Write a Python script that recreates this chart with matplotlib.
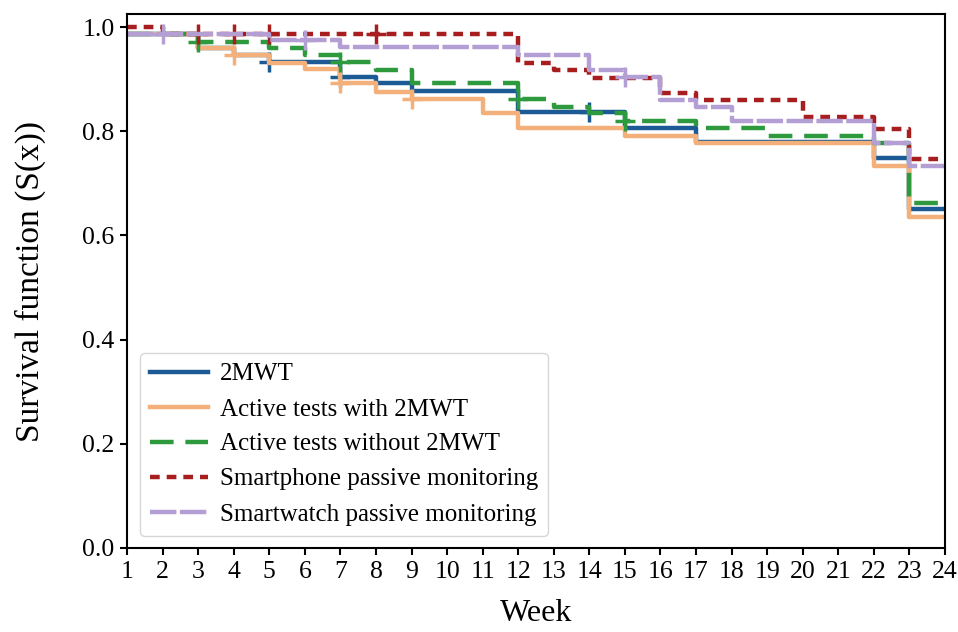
import numpy as np
import matplotlib
matplotlib.use("Agg")
import matplotlib.pyplot as plt

plt.rcParams['font.family'] = ['Liberation Serif', 'DejaVu Serif']
plt.rcParams['lines.scale_dashes'] = False

# ---- data (weeks at which the survival step changes, and the new value) ----
labels = ["2MWT", "Active tests with 2MWT", "Active tests without 2MWT",
          "Smartphone passive monitoring", "Smartwatch passive monitoring"]

weeks_2mwt = [1, 3, 4, 5, 7, 8, 9, 12, 15, 17, 22, 23, 24]
surv_2mwt = [0.987, 0.960, 0.947, 0.933, 0.905, 0.892, 0.878, 0.837, 0.806, 0.779, 0.748, 0.650, 0.650]
cens_2mwt = [5, 7, 14]

weeks_with = [1, 3, 4, 5, 6, 7, 8, 9, 11, 12, 15, 17, 22, 23, 24]
surv_with = [0.987, 0.960, 0.947, 0.931, 0.919, 0.892, 0.876, 0.861, 0.835, 0.807, 0.790, 0.778, 0.733, 0.635, 0.635]
cens_with = [4, 7, 9]

weeks_without = [1, 3, 5, 6, 7, 8, 9, 12, 13, 14, 15, 17, 19, 22, 23, 24]
surv_without = [0.987, 0.972, 0.959, 0.946, 0.933, 0.917, 0.892, 0.862, 0.847, 0.835, 0.819, 0.806, 0.790, 0.778, 0.663, 0.663]
cens_without = [3, 7, 12, 15]

weeks_phone = [1, 2, 12, 13, 14, 16, 17, 20, 22, 23, 24]
surv_phone = [1.0, 0.987, 0.930, 0.917, 0.903, 0.874, 0.859, 0.828, 0.804, 0.746, 0.746]
cens_phone = [3, 4, 5, 8]

weeks_watch = [1, 5, 7, 12, 14, 15, 16, 17, 18, 22, 23, 24]
surv_watch = [0.987, 0.975, 0.962, 0.946, 0.917, 0.905, 0.860, 0.847, 0.820, 0.777, 0.733, 0.733]
cens_watch = [2, 6, 15]

xticks = list(range(1, 25))
yticks = [0.0, 0.2, 0.4, 0.6, 0.8, 1.0]

series = [
    (weeks_2mwt, surv_2mwt, cens_2mwt),
    (weeks_with, surv_with, cens_with),
    (weeks_without, surv_without, cens_without),
    (weeks_phone, surv_phone, cens_phone),
    (weeks_watch, surv_watch, cens_watch),
]
colors = ["#1b5a94", "#f4b07a", "#2e9a3e", "#a81e1e", "#b39fd3"]
styles = ["-", "-", (0, (17, 8.5)), (0, (7, 5)), (0, (19, 2.5))]

fig = plt.figure(figsize=(9.58, 6.32), dpi=100)
ax = fig.add_axes([127/958, 84/632, 818/958, 534/632])

for (t, s, c), col, ls, lab in zip(series, colors, styles, labels):
    t = np.asarray(t, float)
    s = np.asarray(s, float)
    ax.step(t, s, where='post', color=col, lw=3.2, linestyle=ls, label=lab)
    c = np.asarray(c, float)
    idx = np.searchsorted(t, c, side='right') - 1
    ax.plot(c, s[idx], linestyle='none', marker='+', ms=15, mew=2.5, color=col)

ax.set_xlim(1, 24)
ax.set_ylim(0, 1.025)
ax.set_xticks(xticks)
ax.set_yticks(yticks)
ax.set_yticklabels([f"{v:.1f}" for v in yticks])
ax.tick_params(labelsize=18.5, width=1.5, length=5, pad=4)
for sp in ax.spines.values():
    sp.set_linewidth(1.5)

ax.set_xlabel("Week", fontsize=23)
ax.set_ylabel("Survival function (S(x))", fontsize=24)
ax.xaxis.set_label_coords(0.5, -0.095)
ax.yaxis.set_label_coords(-0.099, 0.5)

ax.legend(loc='lower left', fontsize=18, handlelength=2.35, labelspacing=0.5,
          handletextpad=0.45, borderpad=0.4, borderaxespad=0.5)

fig.savefig("out.png", dpi=100)
